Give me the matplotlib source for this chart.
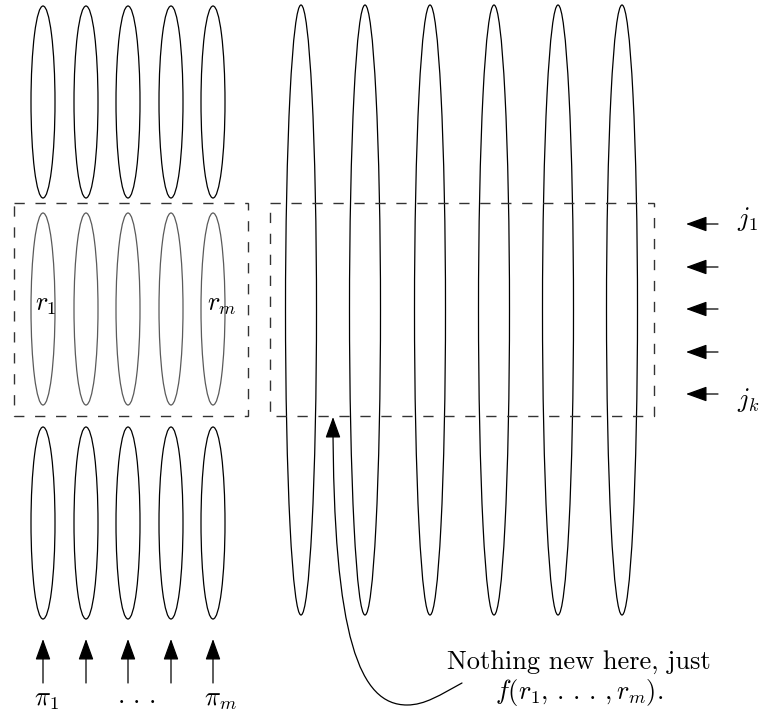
import matplotlib
matplotlib.use("Agg")
import matplotlib.pyplot as plt
from matplotlib.patches import Ellipse, Rectangle, FancyArrowPatch
from matplotlib.path import Path

plt.rcParams['mathtext.fontset'] = 'cm'
plt.rcParams['font.family'] = 'cmr10'
plt.rcParams['axes.unicode_minus'] = False
plt.rcParams['lines.scale_dashes'] = False

# layout of the sketch, in pixel units of the 760x711 canvas
left_x = [43, 86, 128, 171, 213]
left_rows = [102, 309, 523]
right_x = [301, 365, 430, 494, 558, 622]
right_yc = 310
j_arrow_y = [224, 267, 309, 352, 394]

small_w, small_h = 24, 192
big_w, big_h = 31, 610

fig = plt.figure(figsize=(7.6, 7.11), dpi=100)
ax = fig.add_axes([0, 0, 1, 1])
ax.set_xlim(0, 760)
ax.set_ylim(711, 0)
ax.axis('off')

lw = 0.9
for row, yc in enumerate(left_rows):
    col = '#5a5a5a' if row == 1 else 'black'
    for xc in left_x:
        ax.add_patch(Ellipse((xc, yc), small_w, small_h, fill=False, ec=col, lw=lw))

for xc in right_x:
    ax.add_patch(Ellipse((xc, right_yc), big_w, big_h, fill=False, ec='black', lw=lw))

# dashed boxes
box_style = dict(fill=False, ec='#333333', lw=1.0, linestyle=(0, (7.4, 7.7)))
ax.add_patch(Rectangle((14, 203), 234, 213, **box_style))
ax.add_patch(Rectangle((270, 203), 384, 213, **box_style))

head = "-|>,head_length=1.3,head_width=0.47"
arr = dict(arrowstyle=head, shrinkA=0, shrinkB=0, lw=0.9, color='black', mutation_scale=10)

# arrows from the right
for y in j_arrow_y:
    ax.annotate('', xy=(686, y), xytext=(718, y), arrowprops=arr)

# arrows from below
for x in left_x:
    ax.annotate('', xy=(x, 639), xytext=(x, 683), arrowprops=arr)

# curved arrow
verts = [(462, 683), (440, 695), (425, 705), (407, 705),
         (360, 705), (333, 640), (333, 417)]
codes = [Path.MOVETO] + [Path.CURVE4] * 6
ax.add_patch(FancyArrowPatch(path=Path(verts, codes), arrowstyle=head,
                             lw=0.9, color='black', mutation_scale=10))

fs = 19
ax.text(46, 305, r'$r_1$', fontsize=fs, ha='center', va='center')
ax.text(222, 305, r'$r_m$', fontsize=fs, ha='center', va='center')
ax.text(737, 219, r'$j_1$', fontsize=fs, ha='left', va='center')
ax.text(737, 400, r'$j_k$', fontsize=fs, ha='left', va='center')
ax.text(34, 700, r'$\pi_1$', fontsize=fs, ha='left', va='center')
ax.text(136, 703, r'$.\,.\,.$', fontsize=fs, ha='center', va='baseline')
ax.text(204, 700, r'$\pi_m$', fontsize=fs, ha='left', va='center')
ax.text(579, 662, 'Nothing new here, just', fontsize=fs, ha='center', va='center')
ax.text(579, 692, r'$f(r_1,\,.\,.\,.\,,r_m)$.', fontsize=fs, ha='center', va='center')

fig.savefig('out.png', dpi=100)
